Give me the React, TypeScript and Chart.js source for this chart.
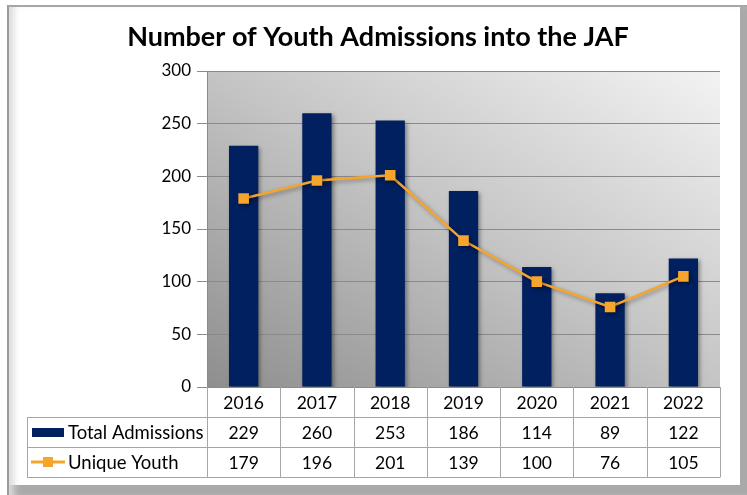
import React, { useEffect, useRef } from "react";
import { Chart, registerables } from "chart.js";

Chart.register(...registerables);

const chartTitle = "Number of Youth Admissions into the JAF";
const years = ["2016", "2017", "2018", "2019", "2020", "2021", "2022"];
const seriesNames = ["Total Admissions", "Unique Youth"];
const totalAdmissions = [229, 260, 253, 186, 114, 89, 122];
const uniqueYouth = [179, 196, 201, 139, 100, 76, 105];
const yMin = 0;
const yMax = 300;
const yStep = 50;

const NAVY = "#002060";
const ORANGE = "#F5A52B";
const FONT = "Lato, 'Noto Sans', sans-serif";
const GRID = "#8a8a8a";
const TABLE_LINE = "#a6a6a6";

const plotBgPlugin = {
  id: "plotBg",
  beforeDraw(chart: any) {
    const { ctx, chartArea: a } = chart;
    const w = a.right - a.left;
    const h = a.bottom - a.top;
    const ax = 0.5 / w;
    const ay = -0.5 / h;
    const n2 = ax * ax + ay * ay;
    const gx = ax / n2;
    const gy = ay / n2;
    const g = ctx.createLinearGradient(a.left, a.bottom, a.left + gx, a.bottom + gy);
    g.addColorStop(0, "#8e8e8e");
    g.addColorStop(0.5, "#c4c4c4");
    g.addColorStop(1, "#f3f3f3");
    ctx.save();
    ctx.fillStyle = g;
    ctx.fillRect(a.left, a.top, w, h);
    ctx.restore();
  },
};

const shadowPlugin = {
  id: "shadow",
  beforeDatasetsDraw(chart: any) {
    const ctx = chart.ctx;
    ctx.save();
    ctx.shadowColor = "rgba(0,0,0,0.38)";
    ctx.shadowBlur = 4;
    ctx.shadowOffsetX = 2;
    ctx.shadowOffsetY = 2;
  },
  afterDatasetsDraw(chart: any) {
    chart.ctx.restore();
  },
};

const titleTablePlugin = {
  id: "titleTable",
  afterDraw(chart: any) {
    const { ctx, chartArea: a } = chart;
    const xs = chart.scales.x;
    ctx.save();
    // title
    ctx.fillStyle = "#000";
    ctx.font = `bold 27px ${FONT}`;
    ctx.textAlign = "center";
    ctx.textBaseline = "middle";
    ctx.fillText(chartTitle, 378, 37);

    // table
    const n = years.length;
    const colW = xs.getPixelForValue(1) - xs.getPixelForValue(0);
    const x0 = xs.getPixelForValue(0) - colW / 2;
    const x1 = x0 + colW * n;
    const top = a.bottom;
    const rowH = 30;
    const labelLeft = 27;
    ctx.strokeStyle = TABLE_LINE;
    ctx.lineWidth = 1;
    ctx.beginPath();
    for (let i = 0; i <= n; i++) {
      const x = Math.round(x0 + i * colW) + 0.5;
      ctx.moveTo(x, top);
      ctx.lineTo(x, top + 3 * rowH);
    }
    for (let r = 1; r <= 3; r++) {
      const y = Math.round(top + r * rowH) + 0.5;
      ctx.moveTo(labelLeft, y);
      ctx.lineTo(x1 + 0.5, y);
    }
    ctx.moveTo(labelLeft + 0.5, top + rowH);
    ctx.lineTo(labelLeft + 0.5, top + 3 * rowH);
    ctx.stroke();

    ctx.font = `17.5px ${FONT}`;
    ctx.fillStyle = "#000";
    ctx.textAlign = "center";
    ctx.textBaseline = "middle";
    const rows = [years, totalAdmissions.map(String), uniqueYouth.map(String)];
    rows.forEach((row, r) => {
      const cy = top + r * rowH + rowH / 2 + 1;
      row.forEach((t, i) => {
        ctx.fillText(t, xs.getPixelForValue(i), cy);
      });
    });

    // row labels with keys
    const cy1 = top + rowH * 1.5;
    const cy2 = top + rowH * 2.5;
    ctx.fillStyle = NAVY;
    ctx.fillRect(32, Math.round(cy1 - 4.5), 32, 9);
    ctx.strokeStyle = ORANGE;
    ctx.lineWidth = 3;
    ctx.beginPath();
    ctx.moveTo(31, cy2);
    ctx.lineTo(65, cy2);
    ctx.stroke();
    ctx.fillStyle = ORANGE;
    ctx.fillRect(43, cy2 - 5, 10, 10);

    ctx.font = `18.5px ${FONT}`;
    ctx.fillStyle = "#000";
    ctx.textAlign = "left";
    ctx.fillText(seriesNames[0], 68, cy1 + 1);
    ctx.fillText(seriesNames[1], 68, cy2 + 1);
    ctx.restore();
  },
};

export default function App() {
  const ref = useRef<HTMLCanvasElement | null>(null);
  useEffect(() => {
    if (!ref.current) return;
    const chart = new Chart(ref.current, {
      type: "bar",
      data: {
        labels: years,
        datasets: [
          {
            type: "line",
            label: seriesNames[1],
            data: uniqueYouth,
            borderColor: ORANGE,
            backgroundColor: ORANGE,
            borderWidth: 2.5,
            pointStyle: "rect",
            pointRadius: 7.5,
            pointBorderWidth: 0,
            pointBackgroundColor: ORANGE,
            tension: 0,
            order: 1,
          } as any,
          {
            type: "bar",
            label: seriesNames[0],
            data: totalAdmissions,
            backgroundColor: NAVY,
            borderWidth: 0,
            barPercentage: 0.4,
            categoryPercentage: 1,
            order: 2,
          } as any,
        ],
      },
      options: {
        responsive: false,
        animation: false,
        layout: { padding: { left: 0, top: 71, right: 27, bottom: 108 } },
        plugins: {
          legend: { display: false },
          title: { display: false },
          tooltip: { enabled: false },
        },
        scales: {
          x: { display: false, offset: true },
          y: {
            min: yMin,
            max: yMax,
            ticks: {
              stepSize: yStep,
              color: "#000",
              padding: 6,
              font: { family: FONT, size: 17 },
            },
            grid: { color: GRID, tickLength: 10, lineWidth: 1 },
            border: { display: true, color: GRID },
            afterFit: (s: any) => {
              s.width = 207;
            },
          },
        },
      },
      plugins: [plotBgPlugin, shadowPlugin, titleTablePlugin],
    });
    return () => chart.destroy();
  }, []);

  return (
    <div style={{ position: "absolute", left: 0, top: 0, width: 747, height: 495, background: "#fff", overflow: "hidden" }}>
      <div
        style={{
          position: "absolute",
          left: 7,
          top: 5,
          width: 740,
          height: 490,
          boxSizing: "border-box",
          background: "#fff",
          borderTop: "2px solid #a6a6a6",
          borderLeft: "2px solid #9a9a9a",
          boxShadow: "inset 9px 0 7px -4px #dcdcdc, inset -7px -10px 0 0 #a9a9a9",
        }}
      />
      <canvas ref={ref} width={747} height={495} style={{ position: "absolute", left: 0, top: 0 }} />
    </div>
  );
}
